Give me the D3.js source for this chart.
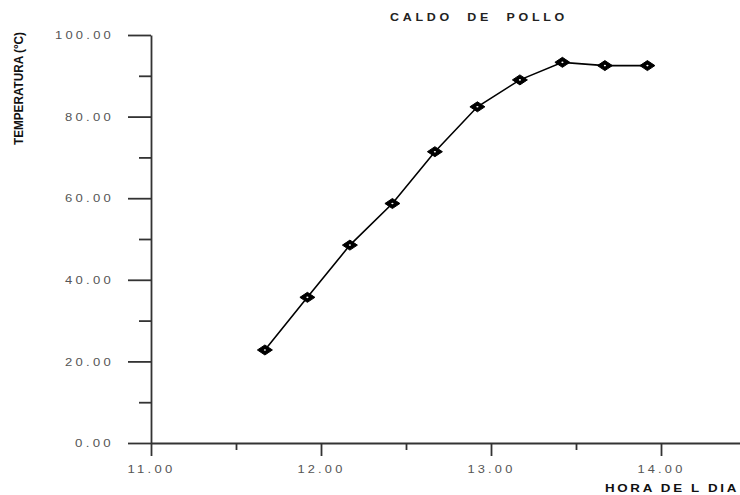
<!DOCTYPE html>
<html>
<head>
<meta charset="utf-8">
<script src="https://cdn.jsdelivr.net/npm/d3@7"></script>
<style>
html,body{margin:0;padding:0;background:#fff;}
svg{display:block;}
</style>
</head>
<body>
<svg id="c" width="740" height="495"></svg>
<script>
const hours = [11.67, 11.92, 12.17, 12.42, 12.67, 12.92, 13.17, 13.42, 13.67, 13.92];
const temps = [22.8, 35.7, 48.5, 58.7, 71.4, 82.4, 89.0, 93.3, 92.5, 92.5];
const xMajorTicks = [11, 12, 13, 14];
const xMinorTicks = [11.5, 12.5, 13.5];
const yMajorTicks = [0, 20, 40, 60, 80, 100];
const yMinorTicks = [10, 30, 50, 70, 90];
const title = "CALDO  DE  POLLO";
const xTitle = "HORA DE L DIA";
const yTitle = "TEMPERATURA (°C)";

const svg = d3.select("#c");
const x = d3.scaleLinear().domain([11, 14.5]).range([151, 746]);
const y = d3.scaleLinear().domain([0, 100]).range([443, 35]);
const axisColor = "#333";
const fmt = d3.format(".2f");
const font = "Liberation Sans, Arial, sans-serif";

// Y axis
const gy = svg.append("g").attr("transform", "translate(151,0)");
gy.call(d3.axisLeft(y).tickValues(yMajorTicks).tickSize(23).tickSizeOuter(0).tickFormat(fmt));
gy.select(".domain").attr("stroke", axisColor).attr("stroke-width", 1.8);
gy.selectAll(".tick line").attr("stroke", axisColor).attr("stroke-width", 1.8);
gy.selectAll(".tick text").attr("x", -37).attr("dy", "0.36em")
  .attr("font-family", font).attr("font-size", 10).attr("letter-spacing", 2.5)
  .attr("textLength", d => fmt(d).length * 10 - 1).attr("lengthAdjust", "spacingAndGlyphs")
  .attr("fill", "#555");
const gy2 = svg.append("g").attr("transform", "translate(151,0)");
gy2.call(d3.axisLeft(y).tickValues(yMinorTicks).tickSize(12).tickFormat(""));
gy2.select(".domain").remove();
gy2.selectAll(".tick line").attr("stroke", axisColor).attr("stroke-width", 1.8);

// X axis
const gx = svg.append("g").attr("transform", "translate(0,443)");
gx.call(d3.axisBottom(x).tickValues(xMajorTicks).tickSize(13).tickSizeOuter(0).tickFormat(fmt));
gx.select(".domain").attr("stroke", axisColor).attr("stroke-width", 1.8);
gx.selectAll(".tick line").attr("stroke", axisColor).attr("stroke-width", 1.8);
gx.selectAll(".tick text").attr("y", 30).attr("dy", 0)
  .attr("font-family", font).attr("font-size", 10).attr("letter-spacing", 2.5)
  .attr("textLength", d => fmt(d).length * 10 - 2).attr("lengthAdjust", "spacingAndGlyphs")
  .attr("fill", "#555");
const gx2 = svg.append("g").attr("transform", "translate(0,443)");
gx2.call(d3.axisBottom(x).tickValues(xMinorTicks).tickSize(7).tickFormat(""));
gx2.select(".domain").remove();
gx2.selectAll(".tick line").attr("stroke", axisColor).attr("stroke-width", 1.8);

// Line
const line = d3.line().x((d, i) => x(hours[i])).y(d => y(d));
svg.append("path").datum(temps).attr("d", line)
  .attr("fill", "none").attr("stroke", "#000").attr("stroke-width", 1.6);

// Markers
const mk = svg.append("g");
temps.forEach((t, i) => {
  const cx = x(hours[i]), cy = y(t);
  mk.append("path")
    .attr("d", `M${cx-7.5},${cy} L${cx},${cy-5} L${cx+7.5},${cy} L${cx},${cy+5} Z`)
    .attr("fill", "#000").attr("stroke", "#000").attr("stroke-width", 1);
  mk.append("ellipse").attr("cx", cx).attr("cy", cy).attr("rx", 1.1).attr("ry", 0.8).attr("fill", "#fff");
});

// Titles
svg.append("text").attr("x", 390).attr("y", 21)
  .attr("font-family", font).attr("font-size", 10).attr("font-weight", "bold")
  .attr("textLength", 178).attr("lengthAdjust", "spacingAndGlyphs")
  .attr("letter-spacing", 3).attr("fill", "#222").style("white-space", "pre").text(title);
svg.append("text").attr("x", 605).attr("y", 492)
  .attr("font-family", font).attr("font-size", 10).attr("font-weight", "bold")
  .attr("textLength", 134).attr("lengthAdjust", "spacingAndGlyphs")
  .attr("letter-spacing", 2).attr("fill", "#111").text(xTitle);
svg.append("text").attr("transform", "translate(23,145) rotate(-90)")
  .attr("font-family", font).attr("font-size", 13).attr("font-weight", "bold")
  .attr("textLength", 113).attr("lengthAdjust", "spacingAndGlyphs").attr("fill", "#111").text(yTitle);
</script>
</body>
</html>
